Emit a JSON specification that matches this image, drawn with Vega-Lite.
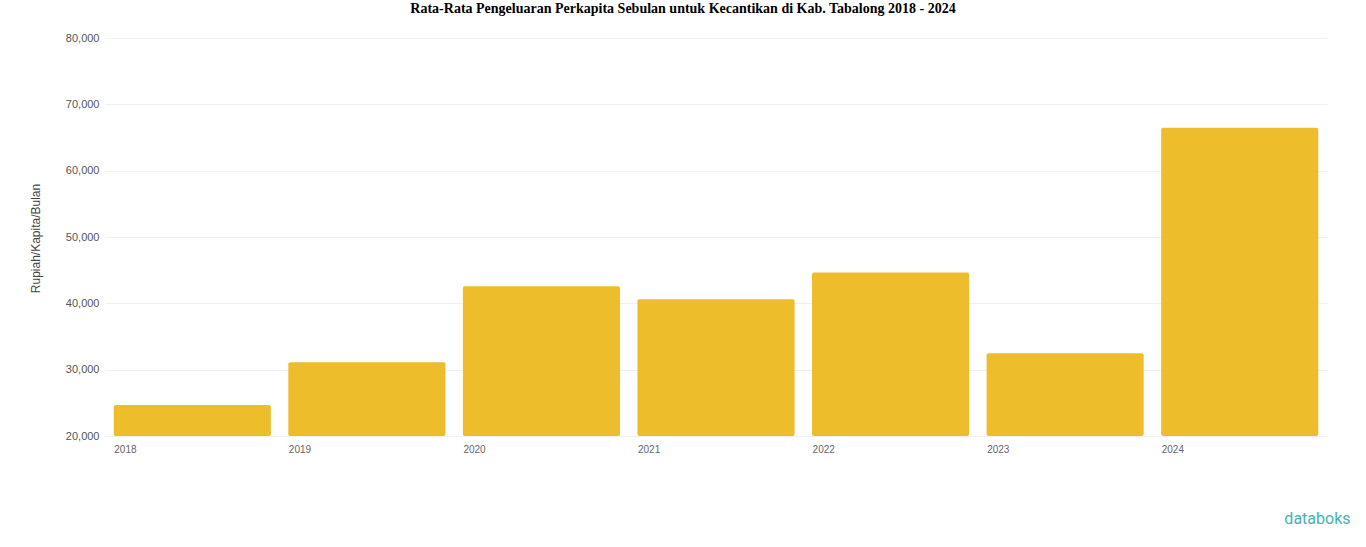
{
  "$schema": "https://vega.github.io/schema/vega-lite/v6.json",
  "autosize": {"type": "none"},
  "width": 1222,
  "height": 398,
  "padding": {"left": 105, "top": 38, "right": 39, "bottom": 111},
  "background": "white",
  "view": {"stroke": null},
  "title": {
    "text": "Rata-Rata Pengeluaran Perkapita Sebulan untuk Kecantikan di Kab. Tabalong 2018 - 2024",
    "font": "Liberation Serif",
    "fontSize": 14,
    "fontWeight": "bold",
    "color": "#000000",
    "anchor": "middle",
    "dx": -33,
    "offset": 16
  },
  "data": {
    "values": [
      {"tahun": "2018", "nilai": 24660},
      {"tahun": "2019", "nilai": 31130},
      {"tahun": "2020", "nilai": 42560},
      {"tahun": "2021", "nilai": 40600},
      {"tahun": "2022", "nilai": 44660},
      {"tahun": "2023", "nilai": 32480},
      {"tahun": "2024", "nilai": 66470}
    ]
  },
  "mark": {"type": "bar", "color": "#EEBD2B", "cornerRadius": 2},
  "encoding": {
    "x": {
      "field": "tahun",
      "type": "ordinal",
      "scale": {"paddingInner": 0.1, "paddingOuter": 0.05},
      "axis": {
        "title": "databoks",
        "titleColor": "#45B3AE",
        "titleFont": "Roboto",
        "titleFontSize": 16,
        "titleFontWeight": "normal",
        "titleAnchor": "end",
        "titleAlign": "right",
        "titleBaseline": "middle",
        "titleX": 1245,
        "titleY": 82,
        "labelAngle": 0,
        "labelAlign": "left",
        "labelColor": "#666666",
        "labelFont": "Liberation Sans",
        "labelFontSize": 10,
        "labelPadding": 8,
        "labelOffset": -78,
        "domain": false,
        "ticks": false
      }
    },
    "y": {
      "field": "nilai",
      "type": "quantitative",
      "scale": {"domain": [20000, 80000], "zero": false, "nice": false},
      "axis": {
        "title": "Rupiah/Kapita/Bulan",
        "titleColor": "#444444",
        "titleFont": "Liberation Sans",
        "titleFontSize": 12,
        "titleFontWeight": "normal",
        "titleX": -63,
        "titleY": 200,
        "values": [20000, 30000, 40000, 50000, 60000, 70000, 80000],
        "format": ",.0f",
        "labelColor": "#555555",
        "labelFont": "Liberation Sans",
        "labelFontSize": 11,
        "labelPadding": 6,
        "gridColor": "#F0F0F0",
        "domain": false,
        "ticks": false
      }
    },
    "y2": {"datum": 20000}
  }
}
